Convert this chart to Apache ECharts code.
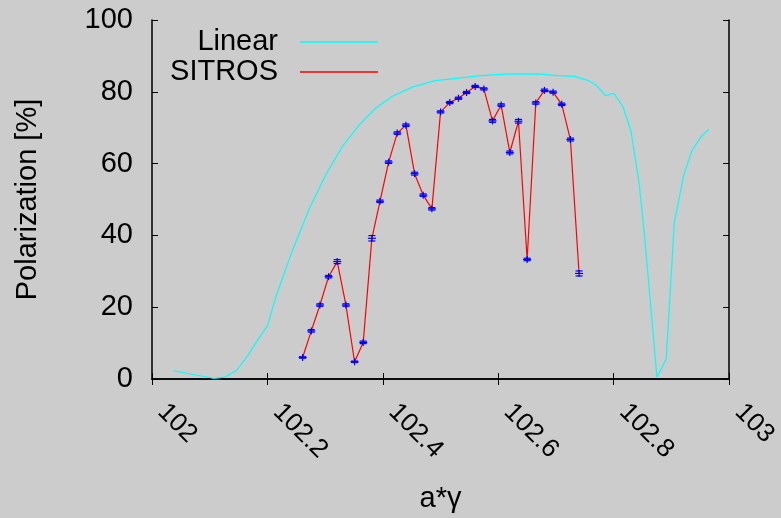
<!DOCTYPE html>
<html>
<head>
<meta charset="utf-8">
<script src="https://cdn.jsdelivr.net/npm/echarts@6/dist/echarts.min.js"></script>
<style>
  html, body { margin: 0; padding: 0; background: #cccccc; }
  #chart { width: 781px; height: 518px; }
</style>
</head>
<body>
<div id="chart"></div>
<script>
// Linear model curve
const linearX = [102.037, 102.106, 102.126, 102.146, 102.166, 102.186, 102.2, 102.215, 102.244, 102.272,
  102.301, 102.33, 102.359, 102.388, 102.416, 102.451, 102.491, 102.531, 102.57, 102.612,
  102.669, 102.703, 102.732, 102.755, 102.77, 102.786, 102.8, 102.816, 102.83, 102.844,
  102.853, 102.875, 102.891, 102.905, 102.921, 102.935, 102.951, 102.965];
const linearP = [2.3, 0.2, 0.5, 2.3, 6.5, 11.6, 14.8, 23.1, 36.1, 47.2,
  56.9, 64.8, 70.8, 75.5, 78.7, 81.3, 83.1, 83.8, 84.5, 84.9,
  85.0, 84.5, 84.3, 83.2, 81.8, 78.9, 79.6, 75.9, 69.0, 54.6,
  40.7, 0.5, 5.6, 43.5, 56.5, 63.4, 67.4, 69.6];

// SITROS tracking results with statistical errors
const sitrosX = [102.261, 102.276, 102.291, 102.306, 102.321, 102.336, 102.351, 102.366, 102.381, 102.395,
  102.41, 102.425, 102.44, 102.455, 102.47, 102.485, 102.5, 102.516, 102.531, 102.545,
  102.56, 102.575, 102.59, 102.605, 102.62, 102.635, 102.65, 102.665, 102.68, 102.695,
  102.71, 102.725, 102.74];
const sitrosP = [6.0, 13.4, 20.6, 28.5, 32.7, 20.6, 4.8, 10.2, 39.2, 49.5,
  60.4, 68.5, 70.7, 57.2, 51.2, 47.4, 74.4, 77.0, 78.2, 79.8,
  81.5, 80.8, 71.9, 76.3, 63.1, 71.8, 33.3, 76.9, 80.4, 79.9,
  76.5, 66.7, 29.4];
const sitrosErr = [0.2, 0.35, 0.35, 0.35, 0.55, 0.35, 0.2, 0.35, 0.75, 0.35,
  0.35, 0.35, 0.35, 0.4, 0.35, 0.35, 0.3, 0.3, 0.3, 0.3,
  0.3, 0.3, 0.4, 0.35, 0.4, 0.5, 0.35, 0.35, 0.35, 0.3,
  0.35, 0.4, 0.7];

// Axis ticks
const xTicks = [102, 102.2, 102.4, 102.6, 102.8, 103];
const yTicks = [0, 20, 40, 60, 80, 100];

const FONT = "'Liberation Sans', Arial, sans-serif";

const linearData = linearX.map((x, i) => [x, linearP[i]]);
const sitrosData = sitrosX.map((x, i) => [x, sitrosP[i]]);
const errData = sitrosX.map((x, i) => [x, sitrosP[i], sitrosErr[i]]);

const chart = echarts.init(document.getElementById('chart'));

const tickStyle = { show: true, inside: true, length: 6, lineStyle: { color: '#000', width: 1 } };
const lineStyle = { show: true, lineStyle: { color: '#000', width: 1.5 } };

chart.setOption({
  backgroundColor: '#cccccc',
  animation: false,
  textStyle: { fontFamily: FONT },
  grid: { left: 152, right: 49, top: 20, bottom: 138 },
  legend: {
    orient: 'vertical',
    align: 'right',
    right: 403,
    top: 27.5,
    padding: 0,
    itemGap: 1,
    itemWidth: 78,
    itemHeight: 1.3,
    icon: 'rect',
    textStyle: { fontFamily: FONT, fontSize: 29, color: '#000', lineHeight: 29, padding: [0, 17, 0, 0] },
    data: ['Linear', 'SITROS']
  },
  xAxis: [{
    type: 'value',
    min: xTicks[0], max: xTicks[xTicks.length - 1], interval: 0.2,
    position: 'bottom',
    name: 'a*γ', nameLocation: 'middle', nameGap: 105,
    nameTextStyle: { fontFamily: FONT, fontSize: 29, color: '#000' },
    axisLine: lineStyle, axisTick: tickStyle,
    axisLabel: { rotate: -45, margin: 19, padding: [0, 0, 0, 14], fontSize: 26, color: '#000', fontFamily: FONT,
      formatter: v => String(+v.toFixed(1)) },
    splitLine: { show: false }
  }, {
    type: 'value',
    min: xTicks[0], max: xTicks[xTicks.length - 1], interval: 0.2,
    position: 'top',
    axisLine: lineStyle, axisTick: tickStyle,
    axisLabel: { show: false }, splitLine: { show: false }
  }],
  yAxis: [{
    type: 'value',
    min: yTicks[0], max: yTicks[yTicks.length - 1], interval: 20,
    position: 'left',
    name: 'Polarization [%]', nameLocation: 'middle', nameGap: 110,
    nameTextStyle: { fontFamily: FONT, fontSize: 29, color: '#000' },
    axisLine: lineStyle, axisTick: tickStyle,
    axisLabel: { margin: 19, fontSize: 29, color: '#000', fontFamily: FONT },
    splitLine: { show: false }
  }, {
    type: 'value',
    min: yTicks[0], max: yTicks[yTicks.length - 1], interval: 20,
    position: 'right',
    axisLine: lineStyle, axisTick: tickStyle,
    axisLabel: { show: false }, splitLine: { show: false }
  }],
  series: [{
    name: 'Linear',
    type: 'line',
    data: linearData,
    symbol: 'none',
    color: '#00ffff',
    lineStyle: { color: '#00ffff', width: 1.2 },
    z: 2
  }, {
    name: 'SITROS',
    type: 'line',
    data: sitrosData,
    symbol: 'none',
    color: '#ff0000',
    lineStyle: { color: '#ff0000', width: 1.2 },
    z: 3
  }, {
    name: 'SITROS errors',
    type: 'custom',
    data: errData,
    z: 4,
    renderItem: function (params, api) {
      const x = api.value(0), y = api.value(1), e = api.value(2);
      const c = api.coord([x, y]);
      const lo = api.coord([x, y - e]);
      const hi = api.coord([x, y + e]);
      const hw = 3.5;
      const top = Math.min(hi[1], c[1] - 3.5);
      const bot = Math.max(lo[1], c[1] + 3.5);
      const st = { stroke: '#0000ff', lineWidth: 1.2 };
      return {
        type: 'group',
        children: [
          { type: 'line', shape: { x1: c[0], y1: top, x2: c[0], y2: bot }, style: st },
          { type: 'line', shape: { x1: c[0] - hw, y1: hi[1], x2: c[0] + hw, y2: hi[1] }, style: st },
          { type: 'line', shape: { x1: c[0] - hw, y1: lo[1], x2: c[0] + hw, y2: lo[1] }, style: st },
          { type: 'line', shape: { x1: c[0] - 4, y1: c[1], x2: c[0] + 4, y2: c[1] }, style: st }
        ]
      };
    }
  }]
});
</script>
</body>
</html>
